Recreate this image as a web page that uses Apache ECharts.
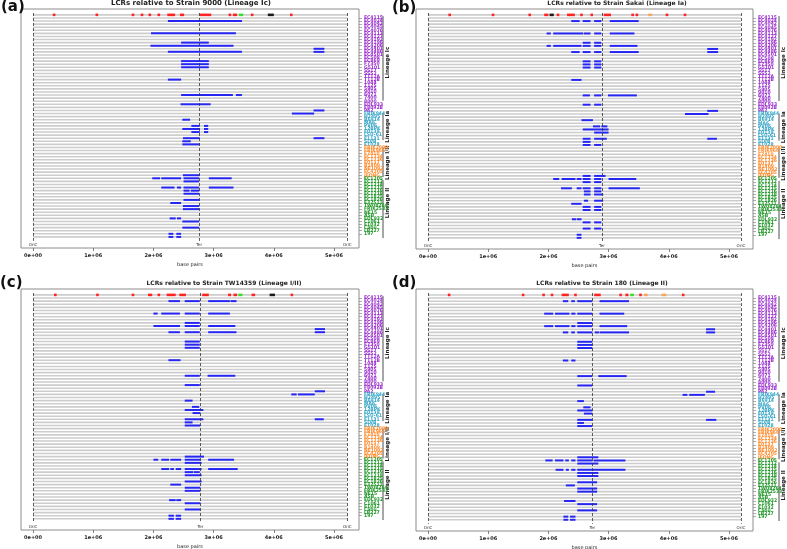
<!DOCTYPE html>
<html>
<head>
<meta charset="utf-8">
<script src="https://cdn.jsdelivr.net/npm/echarts@6.0.0/dist/echarts.min.js"></script>
<style>
html, body { margin: 0; padding: 0; background: #fff; }
#chart { width: 787px; height: 549px; }
</style>
</head>
<body>
<div id="chart"></div>
<script>
// row 0 is the reference strain, then the four lineage groups top to bottom
const lineages = ['Lineage Ic', 'Lineage Ia', 'Lineage I/II', 'Lineage II'];
const strainsIc = ['EC4115', 'EC4024', 'EC4042', 'EC4045', 'EC4076', 'EC4113', 'EC4127', 'EC4192', 'EC4196', 'EC4206',
  'EC4401', 'EC4486', 'EC4501', 'EC508', 'EC869', 'F7350', 'G5101', 'SS17', 'SS52', 'TT12A', 'TT12B', '1044', '1125',
  '5905', '9010', '6071', '7400', '8000', 'EDL933', 'F8092B', 'PA2'];
const strainsIa = ['FRIK944', 'H2495', 'B6914', 'MA6', 'PV06', '12BPK', 'E0139', 'LSU-61', 'E1131', 'SLVB', 'E1028'];
const strainsI_II = ['FRIK2000', 'FRIK966', 'F7410', 'EC1734', 'EC1736', 'E0137', 'B1409', 'NE1092', 'EC4205', 'JEONG'];
const strainsII = ['EC1205', 'EC1212', 'EC1214', 'EC1215', 'EC1216', 'EC1218', 'EC1825', 'EC1826', 'E32511', 'TW08264',
  'FRIK2533', 'NE15', 'ASB', 'EDL932', 'C1061', 'E1032', 'Cabu', 'LB227', '197', 'SDM1-1'];

const refStrains = ['9000', 'Sakai', 'TW14359', '180'];
const refLineage = ['Lineage Ic', 'Lineage Ia', 'Lineage I/II', 'Lineage II'];
const genomeLen = [5.22, 5.20, 5.22, 5.20];   // Mb
const terPos = [2.76, 2.89, 2.78, 2.73];      // Mb
const xTicks = [0, 1, 2, 3, 4, 5];

// LCRs in the reference strain (row 0): [start, end, kind]  kind: 0 red, 1 green, 2 black, 3 orange
const refA = [[0.33, 0.37, 0], [1.04, 1.08, 0], [1.64, 1.68, 0], [1.79, 1.83, 0], [1.92, 1.96, 0], [2.07, 2.11, 0],
  [2.23, 2.36, 0], [2.44, 2.51, 0], [2.77, 2.96, 0], [3.25, 3.29, 0], [3.32, 3.39, 0], [3.42, 3.49, 1], [3.62, 3.66, 0],
  [3.90, 4.00, 2], [4.27, 4.31, 0]];
const refB = [[0.34, 0.38, 0], [1.06, 1.10, 0], [1.67, 1.71, 0], [1.93, 2.00, 0], [2.02, 2.09, 2], [2.14, 2.18, 0],
  [2.31, 2.44, 0], [2.53, 2.57, 0], [2.70, 2.74, 0], [2.92, 3.04, 0], [3.38, 3.42, 0], [3.45, 3.49, 0], [3.66, 3.72, 3],
  [3.95, 3.99, 0], [4.25, 4.29, 0]];
const refC = [[0.35, 0.39, 0], [1.05, 1.09, 0], [1.64, 1.68, 0], [1.91, 1.98, 0], [2.07, 2.11, 0], [2.22, 2.37, 0],
  [2.43, 2.54, 0], [2.81, 2.92, 0], [3.24, 3.29, 0], [3.33, 3.39, 0], [3.41, 3.48, 1], [3.63, 3.69, 0], [3.93, 4.02, 2],
  [4.28, 4.32, 0]];
const refD = [[0.33, 0.37, 0], [1.56, 1.60, 0], [1.90, 1.94, 0], [2.04, 2.08, 0], [2.22, 2.34, 0], [2.43, 2.47, 0],
  [2.76, 2.87, 0], [3.18, 3.22, 0], [3.28, 3.33, 0], [3.36, 3.42, 1], [3.51, 3.55, 0], [3.59, 3.65, 3], [3.88, 3.96, 3],
  [4.22, 4.26, 0]];

// LCRs found in the other strains: [row, start, end] (Mb)
const segA = [[2, 2.24, 3.47], [6, 1.96, 3.37], [9, 2.46, 2.92], [10, 1.95, 3.33], [11, 4.66, 4.84], [12, 2.24, 3.47],
  [12, 4.66, 4.84], [15, 2.46, 2.92], [16, 2.46, 2.92], [17, 2.46, 2.92], [21, 2.24, 2.46], [26, 2.46, 3.32],
  [26, 3.37, 3.47], [29, 2.45, 2.95], [31, 4.66, 4.84], [32, 4.30, 4.67], [34, 2.48, 2.61], [36, 2.63, 2.77],
  [36, 2.84, 2.91], [37, 2.48, 2.77], [37, 2.84, 2.91], [38, 2.63, 2.77], [38, 2.84, 2.91], [40, 2.49, 2.77],
  [40, 4.66, 4.84], [41, 2.48, 2.62], [42, 2.48, 2.77], [52, 2.49, 2.77], [53, 1.98, 2.11], [53, 2.13, 2.46],
  [53, 2.50, 2.76], [53, 2.92, 3.30], [54, 2.50, 2.76], [56, 2.13, 2.35], [56, 2.39, 2.46], [56, 2.50, 2.76],
  [56, 2.92, 3.33], [57, 2.50, 2.60], [57, 2.62, 2.76], [58, 2.50, 2.76], [60, 2.50, 2.76], [61, 2.28, 2.46],
  [62, 2.49, 2.76], [63, 2.49, 2.76], [66, 2.27, 2.37], [66, 2.39, 2.46], [67, 2.48, 2.76], [69, 2.48, 2.76],
  [71, 2.25, 2.33], [71, 2.38, 2.46], [72, 2.25, 2.33], [72, 2.38, 2.46]];
const segB = [[2, 2.38, 2.52], [2, 2.57, 2.70], [2, 2.76, 2.88], [2, 3.02, 3.50], [6, 1.97, 2.04], [6, 2.08, 2.58],
  [6, 2.59, 2.70], [6, 2.76, 2.88], [6, 3.02, 3.43], [9, 2.57, 2.70], [9, 2.76, 2.88], [10, 1.97, 2.04],
  [10, 2.08, 2.55], [10, 2.57, 2.70], [10, 2.76, 2.88], [10, 3.02, 3.48], [11, 4.64, 4.82], [12, 2.38, 2.52],
  [12, 2.57, 2.70], [12, 2.76, 2.88], [12, 3.02, 3.50], [12, 4.64, 4.82], [15, 2.57, 2.70], [15, 2.76, 2.88],
  [16, 2.57, 2.70], [16, 2.76, 2.88], [17, 2.57, 2.70], [17, 2.76, 2.88], [21, 2.38, 2.55], [26, 2.57, 2.69],
  [26, 2.76, 2.88], [26, 2.99, 3.47], [29, 2.57, 2.70], [29, 2.76, 2.88], [31, 4.64, 4.82], [32, 4.27, 4.66],
  [34, 2.55, 2.74], [36, 2.74, 2.86], [36, 2.88, 2.98], [37, 2.57, 3.00], [38, 2.76, 3.00], [40, 2.57, 2.70],
  [40, 2.76, 2.97], [40, 4.64, 4.80], [41, 2.57, 2.70], [42, 2.57, 2.70], [42, 2.76, 2.88], [52, 2.57, 2.70],
  [52, 2.76, 2.95], [53, 2.08, 2.18], [53, 2.22, 2.45], [53, 2.47, 2.55], [53, 2.57, 2.70], [53, 2.76, 2.88],
  [53, 3.00, 3.46], [54, 2.57, 2.70], [54, 2.76, 2.88], [56, 2.21, 2.39], [56, 2.47, 2.55], [56, 2.57, 2.70],
  [56, 2.76, 2.88], [56, 3.00, 3.52], [57, 2.59, 2.70], [57, 2.76, 2.88], [58, 2.59, 2.70], [58, 2.76, 2.91],
  [60, 2.59, 2.66], [60, 2.76, 2.91], [61, 2.38, 2.55], [62, 2.57, 2.70], [62, 2.76, 2.88], [63, 2.57, 2.70],
  [63, 2.76, 2.88], [66, 2.39, 2.46], [66, 2.47, 2.55], [67, 2.57, 2.70], [67, 2.76, 2.88], [69, 2.57, 2.70],
  [69, 2.76, 2.88], [71, 2.47, 2.55], [72, 2.47, 2.55]];
const segC = [[2, 2.25, 2.44], [2, 2.52, 2.77], [2, 2.91, 3.27], [2, 3.28, 3.38], [6, 2.00, 2.07], [6, 2.13, 2.44],
  [6, 2.52, 2.77], [6, 2.91, 3.27], [9, 2.52, 2.77], [10, 2.00, 2.44], [10, 2.52, 2.77], [10, 2.91, 3.36],
  [11, 4.68, 4.85], [12, 2.25, 2.44], [12, 2.52, 2.77], [12, 2.91, 3.38], [12, 4.68, 4.85], [15, 2.52, 2.77],
  [16, 2.52, 2.77], [17, 2.52, 2.77], [21, 2.25, 2.45], [26, 2.52, 2.77], [26, 2.90, 3.36], [29, 2.52, 2.77],
  [31, 4.68, 4.85], [32, 4.29, 4.38], [32, 4.40, 4.68], [34, 2.52, 2.65], [36, 2.64, 2.76], [37, 2.52, 2.83],
  [38, 2.65, 2.78], [40, 2.52, 2.83], [40, 4.68, 4.83], [41, 2.52, 2.65], [42, 2.52, 2.78], [52, 2.52, 2.84],
  [53, 2.00, 2.08], [53, 2.13, 2.26], [53, 2.28, 2.46], [53, 2.52, 2.78], [53, 2.91, 3.34], [54, 2.52, 2.80],
  [56, 2.13, 2.26], [56, 2.28, 2.34], [56, 2.37, 2.46], [56, 2.52, 2.80], [56, 2.91, 3.40], [57, 2.52, 2.66],
  [57, 2.67, 2.77], [58, 2.52, 2.80], [60, 2.52, 2.80], [61, 2.28, 2.46], [62, 2.52, 2.78], [63, 2.52, 2.78],
  [66, 2.26, 2.37], [66, 2.38, 2.46], [67, 2.52, 2.78], [69, 2.52, 2.78], [71, 2.25, 2.34], [71, 2.37, 2.46],
  [72, 2.25, 2.34], [72, 2.37, 2.46]];
const segD = [[2, 2.24, 2.33], [2, 2.38, 2.44], [2, 2.48, 2.73], [2, 2.85, 3.34], [6, 1.93, 2.08], [6, 2.11, 2.35],
  [6, 2.38, 2.45], [6, 2.48, 2.73], [6, 2.85, 3.26], [9, 2.48, 2.73], [10, 1.93, 2.08], [10, 2.11, 2.35],
  [10, 2.38, 2.45], [10, 2.48, 2.73], [10, 2.85, 3.31], [11, 4.62, 4.77], [12, 2.24, 2.33], [12, 2.38, 2.44],
  [12, 2.48, 2.73], [12, 2.77, 2.84], [12, 2.85, 3.34], [12, 4.62, 4.77], [15, 2.48, 2.73], [16, 2.48, 2.73],
  [17, 2.48, 2.73], [21, 2.24, 2.33], [21, 2.38, 2.45], [26, 2.48, 2.73], [26, 2.83, 3.30], [29, 2.48, 2.73],
  [31, 4.62, 4.77], [32, 4.23, 4.31], [32, 4.34, 4.60], [34, 2.48, 2.59], [36, 2.58, 2.70], [37, 2.48, 2.73],
  [38, 2.59, 2.73], [40, 2.48, 2.73], [40, 4.62, 4.79], [41, 2.48, 2.59], [42, 2.48, 2.73], [52, 2.48, 2.83],
  [53, 1.95, 2.07], [53, 2.11, 2.25], [53, 2.28, 2.34], [53, 2.38, 2.45], [53, 2.48, 2.73], [53, 2.75, 3.28],
  [54, 2.48, 2.83], [56, 2.12, 2.25], [56, 2.29, 2.34], [56, 2.38, 2.45], [56, 2.48, 3.28], [57, 2.48, 2.83],
  [58, 2.48, 2.83], [60, 2.48, 2.81], [61, 2.29, 2.44], [62, 2.48, 2.81], [63, 2.48, 2.81], [66, 2.26, 2.45],
  [67, 2.48, 2.81], [69, 2.48, 2.81], [71, 2.25, 2.33], [71, 2.36, 2.45], [72, 2.25, 2.33], [72, 2.36, 2.45]];

const refSets = [refA, refB, refC, refD];
const segSets = [segA, segB, segC, segD];

const kindColors = ['#ff2323', '#33e033', '#1a1a1a', '#f9a55a'];
const groupColors = ['#ff2020', '#9a32cd', '#37a5c6', '#ff8c2e', '#23962b'];
const lcrColor = '#2626f2';
const trackColor = '#cdcdcd';

const strainRows = [strainsIc, strainsIa, strainsI_II, strainsII];
const rowNames = [];
const rowGroup = [0];
strainRows.forEach((list, g) => list.forEach(s => { rowNames.push(s); rowGroup.push(g + 1); }));
const rowCount = rowNames.length + 1;
const rowTicks = Array.from({ length: rowCount }, (_, i) => i);

const grids = [
  { left: 21, top: 9, width: 338, height: 239 },
  { left: 416, top: 9, width: 337, height: 240 },
  { left: 21, top: 289, width: 338, height: 241 },
  { left: 416, top: 289, width: 337, height: 242 }
];
const xMax = [5.415, 5.40, 5.415, 5.40];

const chart = echarts.init(document.getElementById('chart'));

const font = 'DejaVu Sans';
const narrow = '"Liberation Sans Narrow", "DejaVu Sans Condensed", "DejaVu Sans"';
const rich = {};
groupColors.forEach((c, i) => {
  rich['g' + i] = { color: c, fontSize: 5, fontWeight: 'bold', fontFamily: narrow, lineHeight: 4 };
});

function renderTrack(params, api) {
  const a = api.coord([api.value(1), api.value(0)]);
  const b = api.coord([api.value(2), api.value(0)]);
  return {
    type: 'rect',
    shape: { x: a[0], y: a[1] - 0.8, width: b[0] - a[0], height: 1.6 },
    style: { fill: trackColor }
  };
}

function makeRender(isRef) {
  return function (params, api) {
    const row = api.value(0);
    const a = api.coord([api.value(1), row]);
    const b = api.coord([api.value(2), row]);
    const h = isRef ? 2.6 : 2;
    let x = a[0];
    let w = b[0] - a[0];
    if (w < 2.6) { x -= (2.6 - w) / 2; w = 2.6; }
    return {
      type: 'rect',
      shape: { x: x, y: a[1] - h / 2, width: w, height: h },
      style: { fill: isRef ? kindColors[api.value(3)] : lcrColor }
    };
  };
}

const titleText = refStrains.map((s, i) => 'LCRs relative to Strain ' + s + ' (' + refLineage[i] + ')');
const titleX = [191, 617, 224, 602];
const titleY = [0, 0, 280, 280];
const titleSize = [7, 6, 6, 6];
const letters = ['(a)', '(b)', '(c)', '(d)'];
const letterPos = [[1, 0], [392, 1], [0, 276], [392, 276]];

const option = {
  animation: false,
  backgroundColor: '#fff',
  title: titleText.map((t, i) => ({
    text: t, left: titleX[i], top: titleY[i], textAlign: 'center', padding: 0,
    textStyle: { fontSize: titleSize[i], fontWeight: 'bold', fontFamily: font, color: '#222' }
  })).concat(letters.map((t, i) => ({
    text: t, left: letterPos[i][0], top: letterPos[i][1], padding: 0,
    textStyle: { fontSize: 15, fontWeight: 'bold', fontFamily: font, color: '#111' }
  }))),
  grid: grids.map(g => Object.assign({
    show: true, borderColor: '#8c8c8c', borderWidth: 1, backgroundColor: '#fff',
    containLabel: false, outerBoundsMode: 'none'
  }, g)),
  xAxis: grids.map((g, i) => ({
    type: 'value', gridIndex: i, min: -0.2, max: xMax[i], position: 'bottom',
    axisLine: { show: false, onZero: false },
    splitLine: { show: false },
    axisTick: { show: true, customValues: xTicks, length: 3, lineStyle: { color: '#666', width: 0.8 } },
    axisLabel: {
      customValues: xTicks, fontSize: 5, fontWeight: 'bold', fontFamily: font, color: '#222', margin: 5,
      formatter: v => (v === 0 ? '0e+00' : v + 'e+06')
    },
    name: 'base pairs', nameLocation: 'middle', nameGap: 14,
    nameTextStyle: { fontSize: 5, fontFamily: font, color: '#222' }
  })),
  yAxis: grids.map((g, i) => ({
    type: 'value', gridIndex: i, inverse: true, min: -1.9, max: 75.6, position: 'right',
    axisLine: { show: false, onZero: false },
    splitLine: { show: false },
    axisTick: { show: true, customValues: rowTicks, length: 3, lineStyle: { color: '#777', width: 0.6 } },
    axisLabel: {
      customValues: rowTicks, margin: 5, align: 'left', rich: rich,
      formatter: v => {
        const r = Math.round(v);
        const name = r === 0 ? refStrains[i] : rowNames[r - 1];
        return '{g' + rowGroup[r] + '|' + name + '}';
      }
    }
  })),
  series: []
};

for (let p = 0; p < 4; p++) {
  const L = genomeLen[p];
  option.series.push({
    type: 'custom', xAxisIndex: p, yAxisIndex: p, renderItem: renderTrack, silent: true,
    encode: { x: [1, 2], y: 0 }, z: 2,
    data: rowTicks.map(r => [r, 0, L]),
    markLine: {
      silent: true, symbol: ['none', 'none'],
      lineStyle: { type: [3, 2], color: '#333', width: 0.8 },
      label: { show: true, position: 'end', distance: 2, fontSize: 4, fontFamily: font, color: '#333',
        formatter: d => d.name },
      data: [
        [{ coord: [0, -0.6], name: 'OriC' }, { coord: [0, 73.3] }],
        [{ coord: [terPos[p], -0.6], name: 'Ter' }, { coord: [terPos[p], 73.3] }],
        [{ coord: [L, -0.6], name: 'OriC' }, { coord: [L, 73.3] }]
      ]
    }
  });
  option.series.push({
    type: 'custom', xAxisIndex: p, yAxisIndex: p, renderItem: makeRender(false), silent: true,
    encode: { x: [1, 2], y: 0 }, z: 3,
    data: segSets[p]
  });
  option.series.push({
    type: 'custom', xAxisIndex: p, yAxisIndex: p, renderItem: makeRender(true), silent: true,
    encode: { x: [1, 2], y: 0 }, z: 4,
    data: refSets[p].map(m => [0, m[0], m[1], m[2]])
  });
}

chart.setOption(option);

// lineage brackets to the right of the strain labels
const bracketRows = [[0.4, 27.8], [31.8, 40.6], [42.9, 52.6], [53.6, 72.4]];
const bracketText = [15.5, 36.3, 48, 61];
const graphics = [];
grids.forEach((g, p) => {
  const bx = g.left + g.width + (p % 2 === 0 ? 24 : 26);
  bracketRows.forEach((br, k) => {
    const y1 = chart.convertToPixel({ gridIndex: p }, [0, br[0]])[1];
    const y2 = chart.convertToPixel({ gridIndex: p }, [0, br[1]])[1];
    const ty = chart.convertToPixel({ gridIndex: p }, [0, bracketText[k]])[1];
    graphics.push({
      type: 'line', silent: true,
      shape: { x1: bx, y1: y1, x2: bx, y2: y2 },
      style: { stroke: '#222', lineWidth: 0.8 }
    });
    graphics.push({
      type: 'text', silent: true, x: bx + 5, y: ty, rotation: Math.PI / 2,
      style: { text: lineages[k], fontSize: 5.5, fontWeight: 'bold', fontFamily: font, fill: '#222',
        align: 'center', verticalAlign: 'middle' }
    });
  });
});
chart.setOption({ graphic: graphics });

window.addEventListener('resize', () => chart.resize());
</script>
</body>
</html>
